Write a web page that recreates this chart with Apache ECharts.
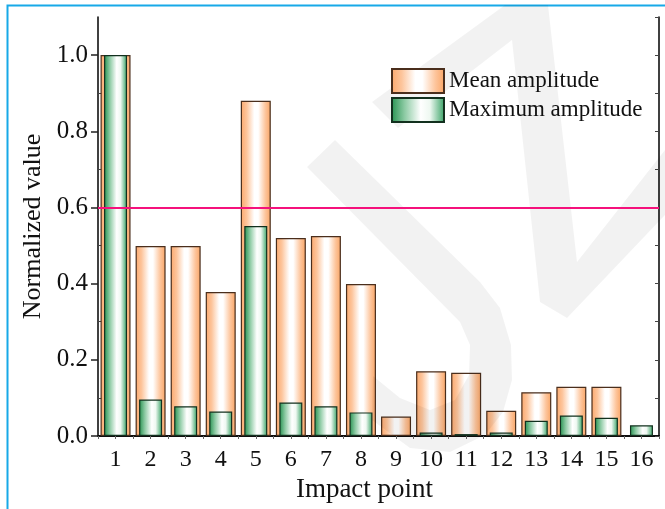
<!DOCTYPE html>
<html>
<head>
<meta charset="utf-8">
<script src="https://cdn.jsdelivr.net/npm/echarts@6/dist/echarts.min.js"></script>
<style>
  html, body { margin: 0; padding: 0; background: #fff; }
  #main { width: 665px; height: 509px; }
</style>
</head>
<body>
<div id="main"></div>
<script>
// impact points 1..16
const categories = ['1', '2', '3', '4', '5', '6', '7', '8', '9', '10', '11', '12', '13', '14', '15', '16']
// normalized mean amplitude (orange bars)
const meanAmp = [1.0, 0.499, 0.499, 0.378, 0.880, 0.520, 0.525, 0.399, 0.051, 0.170, 0.166, 0.066, 0.115, 0.129, 0.129, '-']
// normalized maximum amplitude (green bars)
const maxAmp = [1.0, 0.096, 0.078, 0.064, 0.551, 0.088, 0.078, 0.062, '-', 0.009, 0.005, 0.009, 0.040, 0.054, 0.048, 0.028]
const majorTicks = [0, 0.2, 0.4, 0.6, 0.8, 1.0]
const minorTicks = [0.1, 0.3, 0.5, 0.7, 0.9]
const threshold = 0.6

const serif = 'Liberation Serif'

const orangeFill = {
  type: 'linear', x: 0, y: 0, x2: 1, y2: 0,
  colorStops: [
    { offset: 0, color: '#fba86c' },
    { offset: 0.2, color: '#fdc59c' },
    { offset: 0.45, color: '#ffffff' },
    { offset: 0.58, color: '#ffffff' },
    { offset: 0.82, color: '#fdc59c' },
    { offset: 1, color: '#f9a464' }
  ]
}
const greenFill = {
  type: 'linear', x: 0, y: 0, x2: 1, y2: 0,
  colorStops: [
    { offset: 0, color: '#25914f' },
    { offset: 0.25, color: '#8ccaa3' },
    { offset: 0.55, color: '#ffffff' },
    { offset: 0.72, color: '#eef8f1' },
    { offset: 1, color: '#34a062' }
  ]
}

// faint watermark
const markJ = [[307, 167], [335, 140], [480, 282], [500, 308], [511, 345], [512, 380], [503, 412], [485, 435], [450, 452], [410, 448], [372, 420], [373, 376], [400, 398], [430, 410], [455, 400], [469, 375], [470, 345], [460, 322]]
const markZ = [[372, 102], [398, 128], [512, 40], [540, 302], [567, 318], [665, 215], [665, 150], [577, 262], [548, 5], [505, 5]]

const chart = echarts.init(document.getElementById('main'))
chart.setOption({
  animation: false,
  backgroundColor: '#fff',
  graphic: [
    {
      type: 'polygon', shape: { points: markJ },
      style: { fill: 'rgba(0,0,0,0.05)' }, silent: true, z: 3
    },
    {
      type: 'polygon', shape: { points: markZ },
      style: { fill: 'rgba(0,0,0,0.05)' }, silent: true, z: 3
    },
    {
      type: 'rect',
      shape: { x: 7.5, y: 5.5, width: 720, height: 600 },
      style: { fill: 'none', stroke: '#17a9e8', lineWidth: 2 },
      silent: true
    }
  ],
  grid: { left: 98, right: 6, top: 17, bottom: 73 },
  legend: {
    orient: 'vertical',
    left: 386,
    top: 63,
    icon: 'rect',
    itemWidth: 52,
    itemHeight: 24,
    itemGap: 3,
    textStyle: { fontFamily: serif, fontSize: 23, color: '#111' },
    data: ['Mean amplitude', 'Maximum amplitude']
  },
  xAxis: [
    {
      type: 'category',
      data: categories,
      position: 'bottom',
      axisLine: { lineStyle: { color: '#000', width: 1.5 } },
      axisTick: { alignWithLabel: true, length: 7, lineStyle: { color: '#222', width: 1.5 } },
      axisLabel: { fontFamily: serif, fontSize: 24, color: '#111', margin: 12 },
      name: 'Impact point',
      nameLocation: 'middle',
      nameGap: 39,
      nameTextStyle: { fontFamily: serif, fontSize: 27, color: '#111', padding: [0, 28, 0, 0] }
    },
    {
      type: 'value',
      position: 'top',
      min: 0.5,
      max: 16.5,
      interval: 0.5,
      axisLine: { show: true, lineStyle: { color: '#000', width: 1.5 } },
      axisTick: { inside: true, length: 3, lineStyle: { color: '#666' } },
      axisLabel: { show: false },
      splitLine: { show: false }
    },
    {
      // twin axis so the narrow green bars sit centred on each category
      type: 'category',
      data: categories,
      position: 'bottom',
      show: false
    }
  ],
  yAxis: [
    {
      type: 'value',
      min: 0,
      max: 1.1,
      interval: 0.1,
      axisLine: { show: true, lineStyle: { color: '#000', width: 1.5 } },
      axisTick: { length: 7, customValues: majorTicks, lineStyle: { color: '#222', width: 1.5 } },
      axisLabel: {
        customValues: majorTicks,
        fontFamily: serif, fontSize: 25, color: '#111', margin: 10,
        formatter: v => v.toFixed(1)
      },
      splitLine: { show: false },
      name: 'Normalized value',
      nameLocation: 'middle',
      nameGap: 48,
      nameTextStyle: { fontFamily: serif, fontSize: 26, color: '#111' }
    },
    {
      type: 'value',
      position: 'left',
      min: 0,
      max: 1.1,
      interval: 0.1,
      axisLine: { show: false },
      axisTick: { inside: true, length: 4, customValues: minorTicks, lineStyle: { color: '#444' } },
      axisLabel: { show: false },
      splitLine: { show: false }
    },
    {
      type: 'value',
      position: 'right',
      min: 0,
      max: 1.1,
      interval: 0.1,
      axisLine: { show: true, lineStyle: { color: '#000', width: 1.5 } },
      axisTick: { inside: true, length: 4, lineStyle: { color: '#444' } },
      axisLabel: { show: false },
      splitLine: { show: false }
    }
  ],
  series: [
    {
      name: 'Mean amplitude',
      type: 'bar',
      data: meanAmp,
      barWidth: 30,
      itemStyle: { color: orangeFill, borderColor: '#4a2e1c', borderWidth: 1.2 }
    },
    {
      name: 'Maximum amplitude',
      type: 'bar',
      xAxisIndex: 2,
      data: maxAmp,
      barWidth: 23,
      itemStyle: { color: greenFill, borderColor: '#12301e', borderWidth: 1.2 },
      markLine: {
        silent: true,
        symbol: 'none',
        label: { show: false },
        lineStyle: { color: '#f5117c', width: 2, type: 'solid' },
        data: [{ yAxis: threshold }]
      }
    }
  ]
})
</script>
</body>
</html>
